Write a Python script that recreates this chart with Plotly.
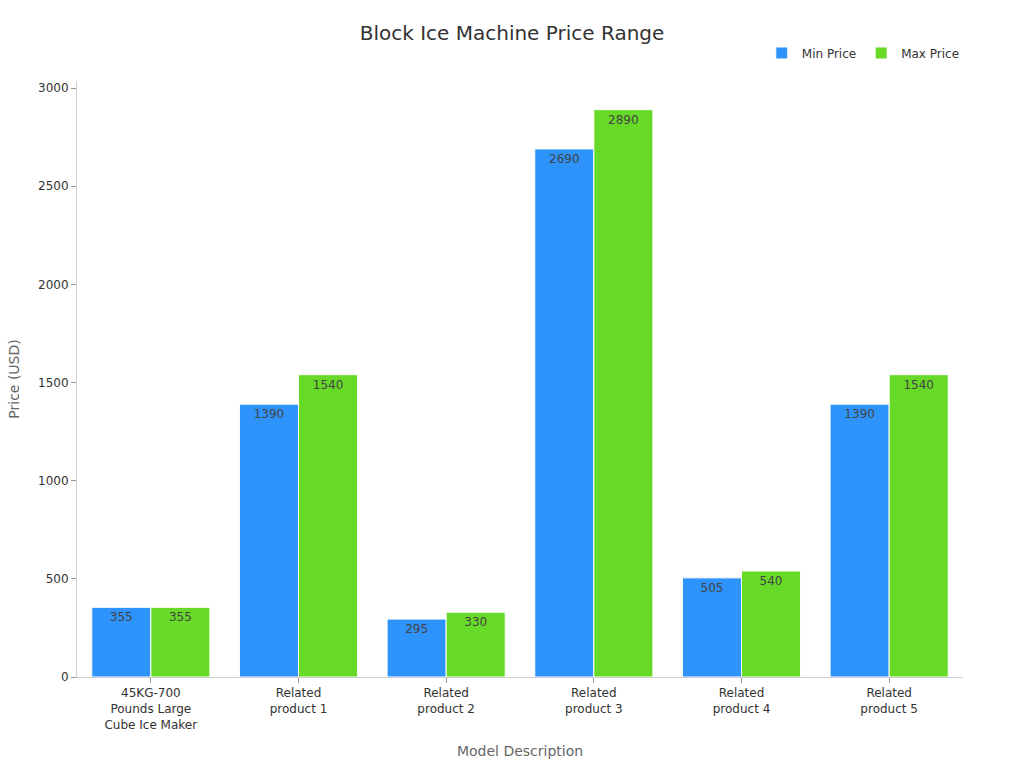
import plotly.graph_objects as go

categories = ["45KG-700<br>Pounds Large<br>Cube Ice Maker", "Related<br>product 1", "Related<br>product 2",
              "Related<br>product 3", "Related<br>product 4", "Related<br>product 5"]
min_price = [355, 1390, 295, 2690, 505, 1390]
max_price = [355, 1540, 330, 2890, 540, 1540]

FONT = "DejaVu Sans"
fig = go.Figure()
fig.add_trace(go.Bar(name="Min Price", x=categories, y=min_price, text=min_price,
                     textposition="inside", insidetextanchor="end",
                     textfont=dict(color="#444444", size=12, family=FONT),
                     marker=dict(color="#2E93FA", line=dict(color="white", width=1))))
fig.add_trace(go.Bar(name="Max Price", x=categories, y=max_price, text=max_price,
                     textposition="inside", insidetextanchor="end",
                     textfont=dict(color="#444444", size=12, family=FONT),
                     marker=dict(color="#66DA26", line=dict(color="white", width=1))))

fig.update_layout(
    width=1024, height=768,
    margin=dict(l=77, r=61, t=81, b=91),
    paper_bgcolor="white", plot_bgcolor="white",
    font=dict(family=FONT, color="#333333", size=12),
    title=dict(text="Block Ice Machine Price Range", x=0.5, xanchor="center",
               y=1 - 33 / 768, yanchor="middle",
               font=dict(size=20, color="#333333", family=FONT)),
    barmode="group", bargap=0.2, bargroupgap=0,
    showlegend=True,
    legend=dict(orientation="h", x=1.002, xanchor="right", y=1.047, yanchor="middle",
                font=dict(size=12, color="#333333"), traceorder="normal"),
    uniformtext=dict(mode="show", minsize=12),
)
fig.update_xaxes(title=dict(text="Model Description", font=dict(size=14, color="#666666")),
                 showline=True, linecolor="#d0d0d0", ticks="outside", tickcolor="#999999",
                 ticklen=5, showgrid=False, tickfont=dict(size=12, color="#333333"))
fig.update_yaxes(title=dict(text="Price (USD)", font=dict(size=14, color="#666666")),
                 range=[0, 3036], tickvals=[0, 500, 1000, 1500, 2000, 2500, 3000],
                 showline=True, linecolor="#d0d0d0", ticks="outside", tickcolor="#999999",
                 ticklen=5, showgrid=False, zeroline=False, tickfont=dict(size=12, color="#333333"))

fig.write_html("out.html")
